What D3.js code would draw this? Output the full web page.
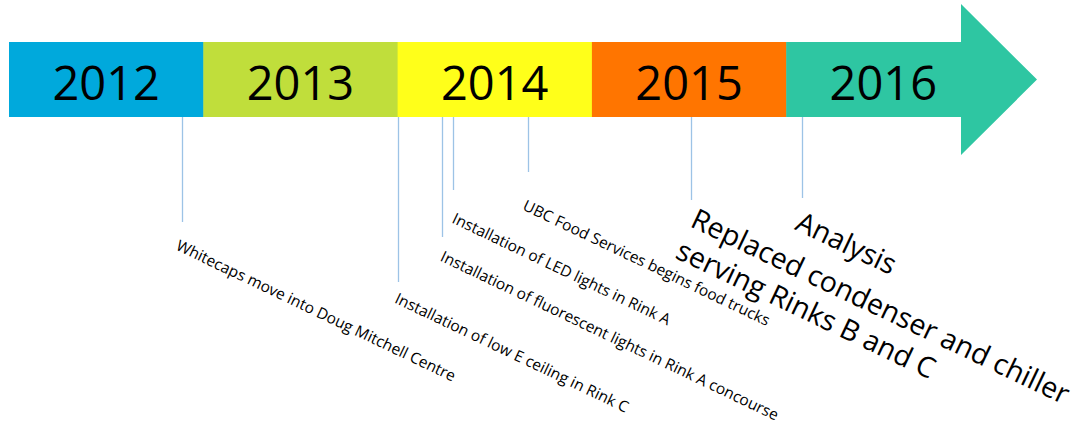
<!DOCTYPE html>
<html>
<head>
<meta charset="utf-8">
<script src="https://cdn.jsdelivr.net/npm/d3@7"></script>
<style>
  html, body { margin: 0; padding: 0; background: #ffffff; }
  svg { display: block; }
  text { font-family: "Open Sans", "Noto Sans", sans-serif; fill: #000; }
</style>
</head>
<body>
<svg id="chart" width="1075" height="427"></svg>
<script>
// ---------- data ----------
const years = [2012, 2013, 2014, 2015, 2016];
const yearLabels = ["2012", "2013", "2014", "2015", "2016"];
const eventTimes = [2012.89, 2014.0, 2014.23, 2014.285, 2014.67, 2015.51, 2016.08];
const eventLabels = [
  ["Whitecaps move into Doug Mitchell Centre"],
  ["Installation of low E ceiling in Rink C"],
  ["Installation of fluorescent lights in Rink A concourse"],
  ["Installation of LED lights in Rink A"],
  ["UBC Food Services begins food trucks"],
  ["Replaced condenser and chiller", "serving Rinks B and C"],
  ["Analysis"]
];
const eventMajor = [false, false, false, false, false, true, true];

// ---------- layout / style (not data) ----------
const yearColors = ["#00A9DC", "#C0DE3B", "#FFFF1A", "#FF7500", "#2EC6A2"];
const leaderDepth = [105, 165, 120, 73, 55, 83, 81];   // leader length below bar
const labelDepth  = [122, 175, 133, 95, 82, 90, 93];   // label top below bar
const labelShift  = [-2, 1, 2, 3, -1, 7, 1];           // label x offset from event
const W = 1075, H = 427;
const barTop = 42, barBottom = 117;
const barMid = (barTop + barBottom) / 2;
const headTop = 4, headBottom = 155;
const bodyEnd = 961, tipX = 1037;
const angle = 25.5;

const svg = d3.select("#chart");

const x = d3.scaleLinear().domain([2012, 2017]).range([9, 980.5]);
const depth = d3.scaleLinear().domain([0, 100]).range([barBottom, barBottom + 100]);

// year segments
const gBar = svg.append("g");
years.forEach((yr, i) => {
  if (i < years.length - 1) {
    gBar.append("rect")
      .attr("x", x(yr)).attr("y", barTop)
      .attr("width", x(yr + 1) - x(yr) + 0.5)
      .attr("height", barBottom - barTop)
      .attr("fill", yearColors[i]);
  } else {
    const pts = [
      [x(yr), barTop], [bodyEnd, barTop], [bodyEnd, headTop], [tipX, barMid],
      [bodyEnd, headBottom], [bodyEnd, barBottom], [x(yr), barBottom]
    ];
    gBar.append("path")
      .attr("d", d3.line()(pts) + "Z")
      .attr("fill", yearColors[i]);
  }
});

// year labels
gBar.selectAll("text.year")
  .data(years)
  .join("text")
  .attr("class", "year")
  .attr("x", d => (x(d) + x(d + 1)) / 2)
  .attr("y", 100)
  .attr("text-anchor", "middle")
  .style("font-size", "47px")
  .text((d, i) => yearLabels[i]);

// leaders
svg.append("g").selectAll("line")
  .data(eventTimes)
  .join("line")
  .attr("x1", d => Math.round(x(d)) + 0.5)
  .attr("x2", d => Math.round(x(d)) + 0.5)
  .attr("y1", barBottom)
  .attr("y2", (d, i) => depth(leaderDepth[i]))
  .attr("stroke", "#9DC3E6")
  .attr("stroke-width", 1.3);

// labels
const gLab = svg.append("g");
eventTimes.forEach((t, i) => {
  const fs = eventMajor[i] ? 28.5 : 15.5;
  const g = gLab.append("g")
    .attr("transform", `translate(${x(t) + labelShift[i]},${depth(labelDepth[i])}) rotate(${angle})`);
  const txt = g.append("text").style("font-size", fs + "px");
  eventLabels[i].forEach((line, j) => {
    txt.append("tspan")
      .attr("x", 0)
      .attr("y", fs * 0.74 + j * fs * 1.22)
      .text(line);
  });
});
</script>
</body>
</html>
